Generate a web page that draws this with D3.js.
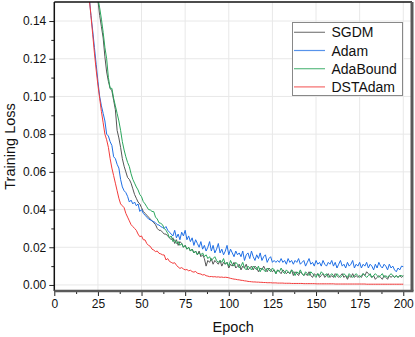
<!DOCTYPE html>
<html><head><meta charset="utf-8">
<script src="https://cdn.jsdelivr.net/npm/d3@7"></script>
<style>body{margin:0;background:#fff;}svg{display:block;font-family:"Liberation Sans",Arial,sans-serif;}</style>
</head><body><div id="chart"></div>
<script>
const firstEpoch = 18;
const seriesNames = ["SGDM","Adam","AdaBound","DSTAdam"];
const seriesColors = ["#555555","#1f6fe5","#2aa65c","#f23b3b"];
const xTicks = [0,25,50,75,100,125,150,175,200];
const yTicks = [0,0.02,0.04,0.06,0.08,0.10,0.12,0.14];

const sgdm = [
.20,.19,.18,.17,.165,.16,.155,
.151,.143,.137,.131,.121,.113,.108,.1043,.103,.098,
.093,.082,.078,.073,.067,.063,.060,.057,.056,.054,
.051,.048,.046,.044,.043,.041,.039,.038,.037,.036,
.035,.034,.033,.032,.030,.029,.029,.028,.027,.027,
.026,.025,.024,.025,.022,.024,.021,.023,.022,.020,
.021,.019,.020,.018,.019,.017,.018,.016,.018,.015,
.016,.014,.010,.013,.012,.014,.011,.013,.012,.011,
.013,.010,.012,.011,.012,.009,.011,.010,.012,.009,
.010,.011,.008,.010,.009,.011,.008,.009,.010,.008,
.010,.009,.007,.009,.008,.010,.008,.007,.009,.008,
.007,.008,.006,.008,.007,.006,.008,.007,.006,.007,
.006,.008,.005,.007,.006,.005,.007,.006,.005,.006,
.005,.007,.005,.004,.006,.005,.006,.004,.005,.006,
.004,.005,.006,.004,.005,.004,.006,.005,.004,.005,
.006,.004,.005,.003,.005,.004,.006,.004,.005,.004,
.005,.004,.006,.005,.007,.006,.005,.004,.005,.003,
.004,.005,.004,.003,.005,.004,.003,.005,.004,.005,
.004,.005,.004,.005,.004,.005];

const adam = [
.175,.163,.153,.143,.135,.126,.117,.108,.100,.095,
.091,.087,.080,.079,.076,.074,.068,.067,.064,.062,
.056,.052,.050,.049,.047,.044,.045,.043,.044,.042,
.043,.039,.040,.038,.037,.036,.035,.0345,.034,.0336,
.033,.032,.0318,.031,.0305,.030,.031,.029,.028,.027,
.026,.029,.025,.027,.024,.028,.026,.029,.024,.026,
.023,.025,.021,.024,.022,.020,.023,.019,.021,.018,
.020,.023,.018,.021,.017,.019,.022,.017,.019,.016,
.018,.021,.016,.019,.017,.015,.018,.016,.017,.015,
.018,.013,.016,.017,.014,.018,.015,.013,.016,.014,
.017,.013,.015,.016,.012,.014,.015,.012,.013,.012,
.013,.012,.014,.012,.013,.011,.014,.012,.013,.011,
.013,.012,.014,.011,.012,.013,.010,.012,.014,.011,
.012,.010,.013,.011,.012,.010,.013,.011,.010,.012,
.011,.013,.010,.012,.009,.011,.013,.010,.011,.009,
.012,.010,.011,.013,.009,.011,.010,.012,.009,.011,
.010,.012,.009,.011,.010,.008,.011,.009,.012,.010,
.009,.011,.010,.008,.011,.009,.010,.008,.007,.009,
.008,.010,.0097];

const adaBound = [
.20,.19,.18,.17,.165,.16,.155,
.152,.147,.141,.134,.126,.120,.110,.1043,.1043,.099,
.095,.091,.087,.082,.076,.0716,.068,.065,.0628,.059,
.056,.054,.052,.0504,.048,.0468,.0442,.043,.0415,.040,
.0398,.039,.0389,.036,.035,.033,.0327,.032,.030,.029,
.0274,.025,.026,.023,.024,.022,.023,.021,.022,.020,
.021,.019,.020,.018,.019,.017,.018,.016,.017,.016,
.017,.015,.016,.014,.015,.013,.014,.015,.013,.012,
.013,.012,.014,.011,.012,.010,.013,.011,.010,.012,
.011,.009,.010,.012,.009,.008,.010,.009,.008,.010,
.009,.008,.010,.007,.009,.008,.007,.009,.008,.007,
.009,.008,.006,.008,.007,.009,.007,.006,.008,.007,
.006,.008,.007,.005,.007,.006,.008,.006,.005,.007,
.006,.005,.007,.006,.005,.004,.006,.005,.007,.006,
.005,.006,.004,.005,.006,.005,.004,.006,.005,.004,
.005,.006,.005,.004,.006,.005,.004,.005,.006,.005,
.004,.005,.006,.005,.004,.005,.006,.004,.005,.006,
.005,.004,.005,.006,.004,.005,.004,.005,.006,.005,
.004,.005,.004,.005,.005,.0044];

const dstAdam = [
.175,.162,.152,.143,.133,.123,.114,.106,.099,.092,
.086,.080,.077,.073,.067,.062,.058,.054,.050,.046,
.043,.042,.041,.038,.036,.034,.032,.031,.030,.029,
.027,.0256,.026,.024,.0239,.022,.021,.0205,.019,.0185,
.0177,.018,.0168,.0165,.016,.0159,.0133,.014,.0125,.012,
.0115,.0118,.0105,.0095,.0088,.0092,.0085,.0080,.0082,.0075,
.0078,.0071,.0068,.0072,.0062,.0060,.0058,.0053,.0055,.0049,
.0047,.0044,.0045,.0043,.0044,.0042,.0043,.0041,.0042,.0040,
.0041,.0040,.0038,.0035,.0033,.0031,.0030,.0028,.0027,.0025,
.0024,.0022,.0021,.0019,.0018,.0017,.0016,.0016,.0015,.0015,
.0014,.0014,.0013,.0013,.0012,.0012,.0012,.0011,.0011,.0011,
.0010,.0010,.0010,.0010,.0009,.0009,.0009,.0009,.0008,.0008,
.0008,.0008,.0008,.0008,.0008,.0007,.0007,.0007,.0007,.0007,
.0007,.0007,.0006,.0006,.0006,.0006,.0006,.0006,.0006,.0006,
.0006,.0006,.0006,.0005,.0005,.0005,.0005,.0005,.0005,.0005,
.0005,.0005,.0005,.0005,.0005,.0005,.0005,.0005,.0005,.0005,
.0005,.0004,.0004,.0004,.0004,.0004,.0004,.0004,.0004,.0004,
.0004,.0004,.0004,.0004,.0004,.0004,.0004,.0004,.0004,.0004,
.0004,.0004,.0004];

const allSeries = [sgdm, adam, adaBound, dstAdam];

const W = 415, H = 337;
const L = 54.3, R = 412, T = 2, B = 291;
const x = d3.scaleLinear().domain([0,205]).range([L,R]);
const y = d3.scaleLinear().domain([-0.0032,0.1501]).range([B,T]);

const svg = d3.select("#chart").append("svg").attr("width",W).attr("height",H);

// grid
const grid = svg.append("g").attr("stroke","#e8e8e8").attr("stroke-width",1);
grid.selectAll("line.gx").data(xTicks.slice(1)).join("line")
  .attr("x1",d=>x(d)).attr("x2",d=>x(d)).attr("y1",T).attr("y2",B);
grid.selectAll("line.gy").data(yTicks).join("line")
  .attr("x1",L).attr("x2",R).attr("y1",d=>y(d)).attr("y2",d=>y(d));

svg.append("defs").append("clipPath").attr("id","clip")
  .append("rect").attr("x",L).attr("y",T).attr("width",R-L).attr("height",B-T);

const line = d3.line().x((d,i)=>x(firstEpoch+i)).y(d=>y(d));
const lines = svg.append("g").attr("clip-path","url(#clip)");
allSeries.forEach((s,k)=>{
  lines.append("path").datum(s).attr("d",line).attr("fill","none")
    .attr("stroke",seriesColors[k]).attr("stroke-width",1).attr("stroke-linejoin","round");
});

// axes
const yMinor = d3.range(0.01,0.15,0.02);
const xMinor = d3.range(12.5,205,25);
const xAxis = d3.axisBottom(x).tickValues(xTicks).tickSize(5).tickPadding(3).tickFormat(d3.format("d"));
const yAxis = d3.axisLeft(y).tickValues(yTicks).tickSize(5).tickPadding(3).tickFormat(d3.format(".2f"));

const gx = svg.append("g").attr("transform",`translate(0,${B})`).call(xAxis);
gx.select(".domain").remove();
gx.selectAll("line").attr("stroke","#222");
gx.selectAll("text").attr("font-size",12).attr("fill","#111").attr("font-family","Liberation Sans, Arial, sans-serif");
svg.append("g").attr("transform",`translate(0,${B})`).call(d3.axisBottom(x).tickValues(xMinor).tickSize(3).tickFormat(""))
  .call(g=>{g.select(".domain").remove(); g.selectAll("line").attr("stroke","#222");});

const gy = svg.append("g").attr("transform",`translate(${L},0)`).call(yAxis);
gy.select(".domain").remove();
gy.selectAll("line").attr("stroke","#222");
gy.selectAll("text").attr("font-size",12).attr("fill","#111").attr("font-family","Liberation Sans, Arial, sans-serif");
svg.append("g").attr("transform",`translate(${L},0)`).call(d3.axisLeft(y).tickValues(yMinor).tickSize(3).tickFormat(""))
  .call(g=>{g.select(".domain").remove(); g.selectAll("line").attr("stroke","#222");});

// frame
svg.append("line").attr("x1",L).attr("x2",R).attr("y1",T).attr("y2",T).attr("stroke","#111").attr("stroke-width",1.5);
svg.append("line").attr("x1",L).attr("x2",L).attr("y1",T).attr("y2",B).attr("stroke","#111").attr("stroke-width",1.5);
svg.append("line").attr("x1",L).attr("x2",R+1.5).attr("y1",B).attr("y2",B).attr("stroke","#5a5a5a").attr("stroke-width",2.5);
svg.append("line").attr("x1",R).attr("x2",R).attr("y1",T).attr("y2",B).attr("stroke","#5a5a5a").attr("stroke-width",3);

// titles
svg.append("text").attr("x",(L+R)/2).attr("y",332).attr("text-anchor","middle")
  .attr("font-size",14.5).attr("fill","#111").text("Epoch");
svg.append("text").attr("transform",`translate(15,${(T+B)/2}) rotate(-90)`).attr("text-anchor","middle")
  .attr("font-size",14.5).attr("fill","#111").text("Training Loss");

// legend
const lg = svg.append("g");
lg.append("rect").attr("x",292.5).attr("y",22.5).attr("width",110).attr("height",73)
  .attr("fill","#fff").attr("stroke","#888").attr("stroke-width",1);
seriesNames.forEach((n,k)=>{
  const cy = 32.3 + k*18.2;
  lg.append("line").attr("x1",294).attr("x2",325).attr("y1",cy).attr("y2",cy)
    .attr("stroke",seriesColors[k]).attr("stroke-width",1.2).attr("opacity",0.75);
  lg.append("text").attr("x",331.5).attr("y",cy+5).attr("font-size",14).attr("fill","#111").text(n);
});
</script></body></html>
